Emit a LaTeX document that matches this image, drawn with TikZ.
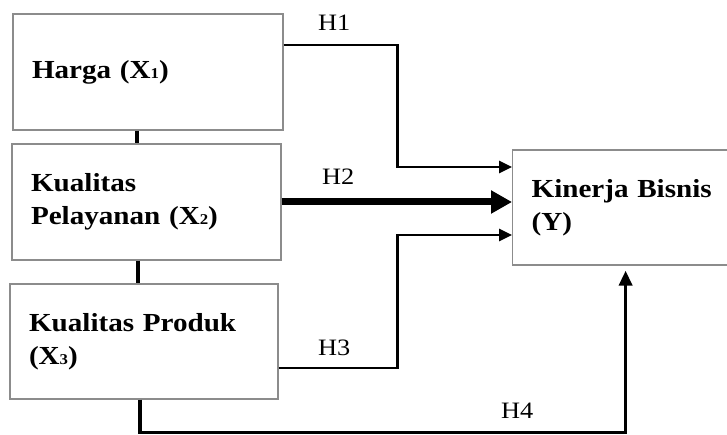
\documentclass[tikz,border=0pt]{standalone}
\usepackage{fontspec}
\setmainfont{Liberation Serif}[FakeStretch=1.12]
\usetikzlibrary{arrows.meta}

% small digit index set on the baseline
\newcommand{\idx}[1]{{\fontsize{15}{15}\selectfont #1}}

\tikzset{
  varbox/.style={draw=black!45, line width=1.2pt, rectangle, inner xsep=19pt,
    inner ysep=0pt, align=left, font=\bfseries\fontsize{26}{33}\selectfont},
  link/.style={line width=4pt},
  path1/.style={line width=2.6pt, -{Triangle[length=13pt,width=12pt]}},
  path2/.style={line width=7pt, -{Triangle[length=21pt,width=22pt]}},
  path4/.style={line width=3.5pt, -{Triangle[length=15pt,width=13pt]}},
  hlabel/.style={anchor=base west, inner sep=0pt, font=\fontsize{23.5}{28}\selectfont}
}

\begin{document}
\begin{tikzpicture}[x=1pt,y=-1pt]
\useasboundingbox (0,0) rectangle (727,435);

% variable boxes
\node[varbox, minimum width=270pt, minimum height=116pt, text width=232pt]
  (x1) at (148,72) {Harga (X\idx{1})};
\node[varbox, minimum width=269pt, minimum height=116pt, text width=231pt]
  (x2) at (146.5,202) {Kualitas\\Pelayanan (X\idx{2})};
\node[varbox, minimum width=268pt, minimum height=115pt, text width=230pt]
  (x3) at (144,341.5) {Kualitas Produk\\(X\idx{3})};
% the dependent variable box runs on past the right edge
\node[varbox, anchor=west, minimum width=230pt, minimum height=115pt, text width=192pt]
  (y) at (512,207.5) {Kinerja Bisnis\\(Y)};

% links between the independent variables
\draw[link] ([xshift=-11pt]x1.south) -- ([xshift=-11pt]x1.south |- x2.north);
\draw[link] ([xshift=-9pt]x2.south) -- ([xshift=-9pt]x2.south |- x3.north);

% hypothesis paths
\draw[path1] ([yshift=27pt]x1.east) -- ++(114,0) |- ([yshift=40.5pt]y.west);
\draw[path2] (x2.east) -- (x2.east -| y.west);
\draw[path1] ([yshift=-26.5pt]x3.east) -- ++(119,0) |- ([yshift=-27.5pt]y.west);
\draw[path4] ([xshift=-4pt]x3.south) -- ++(0,33) -| ([xshift=-2pt,yshift=-5pt]y.south);

% hypothesis labels
\node[hlabel] (h1) at (318,31) {H1};
\node[hlabel] (h2) at (322,185) {H2};
\node[hlabel] (h3) at (318,355) {H3};
\node[hlabel] (h4) at (501,418) {H4};
\end{tikzpicture}
\end{document}
